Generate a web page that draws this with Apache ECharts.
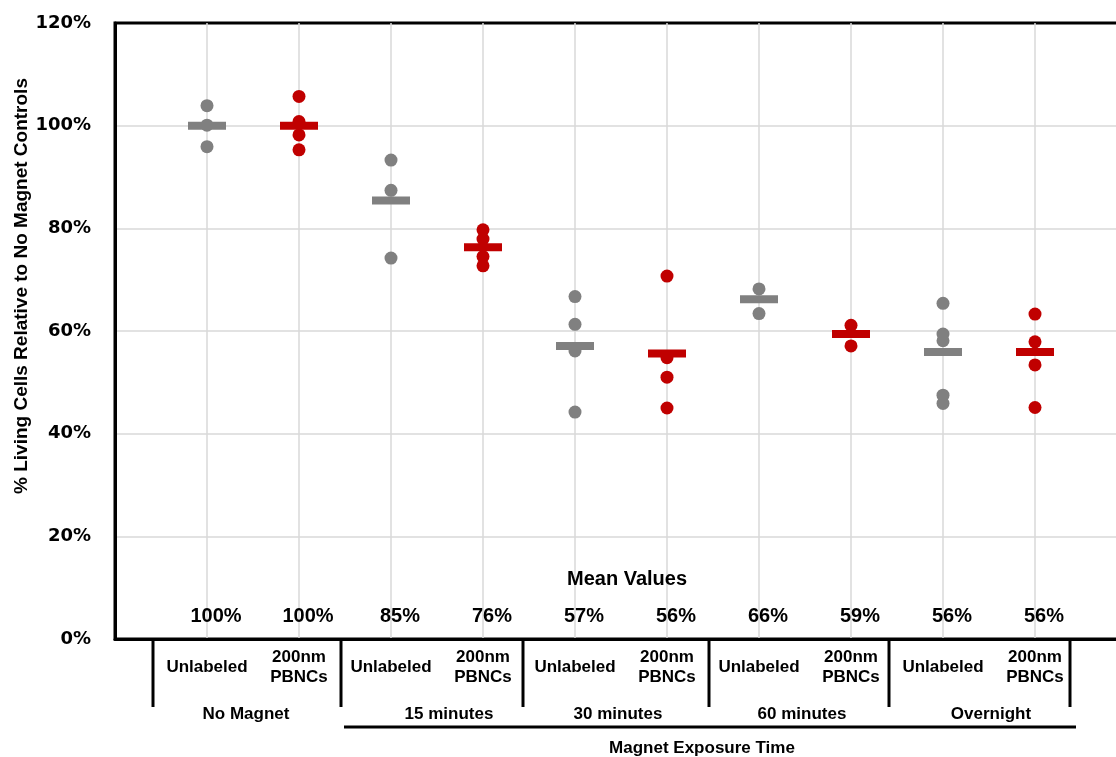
<!DOCTYPE html>
<html>
<head>
<meta charset="utf-8">
<script src="https://cdn.jsdelivr.net/npm/echarts@6/dist/echarts.min.js"></script>
<style>
html,body{margin:0;padding:0;background:#fff;}
#c{width:1116px;height:757px;}
</style>
</head>
<body>
<div id="c"></div>
<script>
// ---- data ----
const subLabels = ['Unlabeled', '200nm\nPBNCs', 'Unlabeled', '200nm\nPBNCs', 'Unlabeled', '200nm\nPBNCs', 'Unlabeled', '200nm\nPBNCs', 'Unlabeled', '200nm\nPBNCs'];
const groupLabels = ['No Magnet', '15 minutes', '30 minutes', '60 minutes', 'Overnight'];
const yTicks = [0, 20, 40, 60, 80, 100, 120];
// replicate values (%), per exposure group
const unlabeledReps = [
  [103.9, 100.1, 95.9],
  [93.3, 87.4, 74.2],
  [66.7, 61.3, 56.1, 44.2],
  [68.2, 63.4],
  [65.4, 59.4, 58.1, 47.5, 45.9]
];
const pbncReps = [
  [105.7, 100.8, 98.2, 95.3],
  [79.7, 77.9, 74.5, 72.7],
  [70.7, 54.8, 51.0, 45.0],
  [61.1, 57.1],
  [63.3, 57.9, 53.4, 45.1]
];
const unlabeledMeans = [100, 85.4, 57.1, 66.2, 55.9];
const pbncMeans = [100, 76.3, 55.6, 59.4, 55.9];

// ---- build ----
const GREY = '#808080', RED = '#C00000';
const FONT = '"Liberation Sans", Arial, sans-serif';
const meanLabelLevel = 4.3;

const greyPts = [], redPts = [], greyMean = [], redMean = [], meanLbl = [];
unlabeledReps.forEach((arr, g) => arr.forEach(v => greyPts.push([2 * g + 1, v])));
pbncReps.forEach((arr, g) => arr.forEach(v => redPts.push([2 * g + 2, v])));
unlabeledMeans.forEach((m, g) => { greyMean.push([2 * g + 1, m]); meanLbl[2 * g] = [2 * g + 1, meanLabelLevel, m]; });
pbncMeans.forEach((m, g) => { redMean.push([2 * g + 2, m]); meanLbl[2 * g + 1] = [2 * g + 2, meanLabelLevel, m]; });

const chart = echarts.init(document.getElementById('c'), null, {renderer: 'canvas'});

const option = {
  animation: false,
  backgroundColor: '#fff',
  grid: {left: 115, top: 23, width: 1012, bottom: 118, outerBoundsMode: 'none', containLabel: false,
         show: true, borderColor: '#000', borderWidth: 3, backgroundColor: 'transparent'},
  xAxis: {
    type: 'value', min: 0, max: 11, interval: 1,
    axisLine: {show: true, lineStyle: {color: '#000', width: 3}},
    axisTick: {show: false},
    splitLine: {show: true, showMinLine: false, showMaxLine: false, lineStyle: {color: '#d9d9d9', width: 1.5}},
    axisLabel: {
      show: true, margin: 28, verticalAlign: 'middle', lineHeight: 20,
      fontFamily: FONT, fontWeight: 'bold', fontSize: 17, color: '#000',
      formatter: v => subLabels[v - 1] || ''
    }
  },
  yAxis: {
    type: 'value', min: 0, max: 120, interval: 20,
    axisLine: {show: true, lineStyle: {color: '#000', width: 3}},
    axisTick: {show: false},
    splitLine: {show: true, showMinLine: false, showMaxLine: false, lineStyle: {color: '#d9d9d9', width: 1.5}},
    axisLabel: {
      margin: 24, fontFamily: '"DejaVu Sans", Verdana, sans-serif', fontWeight: 'bold', fontSize: 18, color: '#000',
      formatter: v => yTicks.indexOf(v) >= 0 ? v + '%' : ''
    }
  },
  series: [
    {type: 'scatter', data: greyPts, symbol: 'circle', symbolSize: 13, itemStyle: {color: GREY, opacity: 1}, z: 2},
    {type: 'scatter', data: redPts, symbol: 'circle', symbolSize: 13, itemStyle: {color: RED, opacity: 1}, z: 2},
    {type: 'scatter', data: greyMean, symbol: 'rect', symbolSize: [38, 8], itemStyle: {color: GREY, opacity: 1}, z: 3},
    {type: 'scatter', data: redMean, symbol: 'rect', symbolSize: [38, 8], itemStyle: {color: RED, opacity: 1}, z: 3},
    {
      type: 'scatter', data: meanLbl, symbolSize: 0, silent: true, z: 4,
      itemStyle: {opacity: 1},
      label: {
        show: true, position: 'inside', offset: [9, 0],
        fontFamily: FONT, fontWeight: 'bold', fontSize: 20, color: '#000',
        formatter: p => Math.round(p.data[2]) + '%'
      }
    }
  ]
};
chart.setOption(option);

// ---- table decoration below the axis ----
const sepX = [153, 341, 523, 709, 889, 1070];
const groupX = [246, 449, 618, 802, 991];
const g = [];
sepX.forEach(x => g.push({type: 'rect', shape: {x: x - 1.5, y: 640, width: 3, height: 67}, style: {fill: '#000'}}));
groupLabels.forEach((t, i) => g.push({type: 'text', x: groupX[i], y: 714, style: {text: t, fontFamily: FONT, fontWeight: 'bold', fontSize: 17, fill: '#000', align: 'center', verticalAlign: 'middle'}}));
g.push({type: 'rect', shape: {x: 344, y: 725.5, width: 732, height: 3}, style: {fill: '#000'}});
g.push({type: 'text', x: 702, y: 748, style: {text: 'Magnet Exposure Time', fontFamily: FONT, fontWeight: 'bold', fontSize: 17, fill: '#000', align: 'center', verticalAlign: 'middle'}});
g.push({type: 'text', x: 627, y: 579, style: {text: 'Mean Values', fontFamily: FONT, fontWeight: 'bold', fontSize: 20, fill: '#000', align: 'center', verticalAlign: 'middle'}});
g.push({type: 'text', x: 22, y: 286, rotation: Math.PI / 2, style: {text: '% Living Cells Relative to No Magnet Controls', fontFamily: FONT, fontWeight: 'bold', fontSize: 19, fill: '#000', align: 'center', verticalAlign: 'middle'}});
chart.setOption({graphic: {elements: g}});
</script>
</body>
</html>
